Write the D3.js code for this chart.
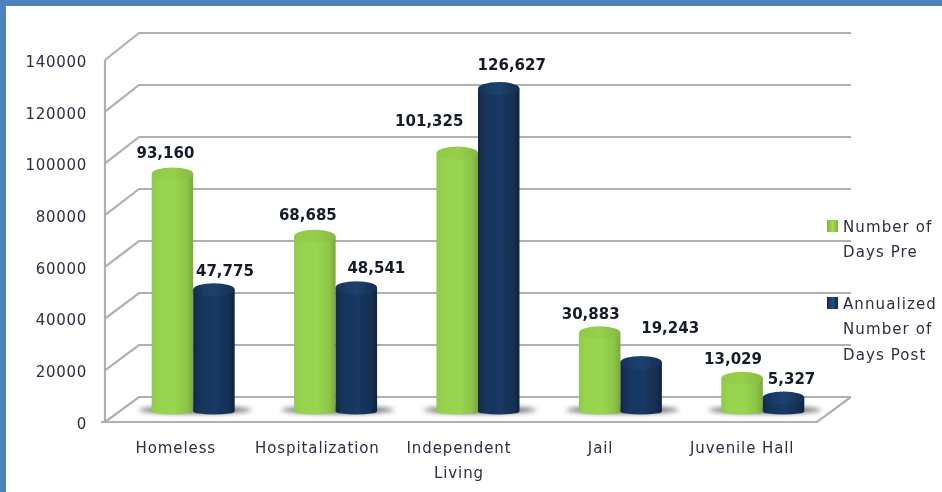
<!DOCTYPE html>
<html><head><meta charset="utf-8">
<script src="https://cdn.jsdelivr.net/npm/d3@7"></script>
<style>
html,body{margin:0;padding:0;background:#fff;overflow:hidden}
svg{display:block}
text{font-family:"DejaVu Sans",sans-serif}
</style></head><body>
<svg id="c" width="942" height="492"></svg>
<script>
const categories=[["Homeless"],["Hospitalization"],["Independent","Living"],["Jail"],["Juvenile Hall"]];
const daysPre=[93160,68685,101325,30883,13029];
const daysPost=[47775,48541,126627,19243,5327];
const yTicks=[0,20000,40000,60000,80000,100000,120000,140000];
const legendPre=["Number of","Days Pre"];
const legendPost=["Annualized","Number of","Days Post"];
// manual label nudges (px), as placed in the source chart
const nudgePre=[[-7,-21],[-7,-22],[-28,-33],[-9,-19],[-9,-20]];
const nudgePost=[[11,-19],[20,-20],[13,-24],[29,-35],[8,-19]];

const svg=d3.select("#c");
const W=942,H=492;
const names=categories.map(c=>c.join(" "));
const yFront=d3.scaleLinear().domain([0,140000]).range([422,60]);
const yBack=d3.scaleLinear().domain([0,140000]).range([397,33]);
const yBar=d3.scaleLinear().domain([0,140000]).range([411.5,54.5]);
const xFront=d3.scaleBand().domain(names).range([105,813]);
const xBar=d3.scaleBand().domain(names).range([122,834]);
const barW=41.5, ry=6.5, ryBase=3;

const defs=svg.append("defs");
function grad(id,stops){
  const g=defs.append("linearGradient").attr("id",id);
  stops.forEach(([o,c])=>g.append("stop").attr("offset",o).attr("stop-color",c));
}
grad("gPre",[[0,"#8fc94a"],[.15,"#96d34e"],[.55,"#98d650"],[.85,"#8cc548"],[1,"#77a83c"]]);
grad("gPreTop",[[0,"#8fc948"],[.5,"#97cf4d"],[1,"#85ba42"]]);
grad("gPost",[[0,"#12284a"],[.2,"#17365d"],[.55,"#1a3a64"],[.85,"#142f52"],[1,"#0f2544"]]);
grad("gPostTop",[[0,"#16345a"],[.5,"#1e4270"],[1,"#142e50"]]);
grad("gLegPre",[[0,"#7fb23e"],[.5,"#a4dc58"],[1,"#7fb23e"]]);
grad("gLegPost",[[0,"#12284a"],[.5,"#24507f"],[1,"#12284a"]]);
const blur=defs.append("filter").attr("id","soft").attr("x","-40%").attr("y","-150%").attr("width","180%").attr("height","400%");
blur.append("feGaussianBlur").attr("stdDeviation",2.5);
const blurAll=defs.append("filter").attr("id","page").attr("x",0).attr("y",0).attr("width","100%").attr("height","100%");
blurAll.append("feGaussianBlur").attr("stdDeviation",0.6);

const root=svg.append("g").attr("filter","url(#page)");
root.append("rect").attr("width",W).attr("height",H).attr("fill","#fff");
root.append("rect").attr("width",W).attr("height",6).attr("fill","#4f81bd");
root.append("rect").attr("width",6).attr("height",H).attr("fill","#4f81bd");

// walls and gridlines
const gridCol="#b0b0b0";
const grid=root.append("g").attr("fill","none").attr("stroke",gridCol).attr("stroke-width",2.2);
grid.selectAll("path").data(yTicks).join("path")
  .attr("d",t=>`M105,${yFront(t)}L139,${yBack(t)}H851`);
grid.append("path").attr("d",`M105,${yFront(140000)}V${yFront(0)}H817L851,${yBack(0)}`);
root.append("path").attr("d",`M101,${yFront(0)}H105`).attr("stroke",gridCol).attr("stroke-width",2.2);

const ink="#2b2f42";
// y axis labels
const yAxis=d3.axisLeft(yFront).tickValues(yTicks).tickFormat(d3.format("d")).tickSize(0).tickPadding(18);
const ya=root.append("g").attr("transform","translate(105,0)").call(yAxis);
ya.select(".domain").remove();
ya.selectAll("text").attr("dy","0.42em").attr("font-size",15).attr("letter-spacing",.7).attr("fill",ink).attr("font-family",'"DejaVu Sans",sans-serif');

// bars
const series=[
 {vals:daysPre,off:-barW,f:"url(#gPre)",t:"url(#gPreTop)",nudge:nudgePre},
 {vals:daysPost,off:0,f:"url(#gPost)",t:"url(#gPostTop)",nudge:nudgePost}];
const cx=(name,s)=>xBar(name)+xBar.bandwidth()/2+s.off+barW/2;
// floor shadows
const shadow=root.append("g").attr("filter","url(#soft)");
shadow.selectAll("ellipse").data(names).join("ellipse")
  .attr("cx",n=>xBar(n)+xBar.bandwidth()/2+2)
  .attr("cy",yBar(0)-1.5).attr("rx",barW+15).attr("ry",3.5).attr("fill","#666");
series.forEach(s=>{
  const g=root.append("g");
  const bars=g.selectAll("g").data(names.map((n,i)=>({n,v:s.vals[i]}))).join("g");
  bars.append("path").attr("fill",s.f).attr("d",d=>{
    const x=cx(d.n,s)-barW/2,y0=yBar(0),y1=yBar(d.v);
    return `M${x},${y1}V${y0}A${barW/2},${ryBase} 0 0 0 ${x+barW},${y0}V${y1}Z`;
  });
  bars.append("ellipse").attr("cx",d=>cx(d.n,s)).attr("cy",d=>yBar(d.v))
    .attr("rx",barW/2).attr("ry",ry).attr("fill",s.t);
});

// value labels
series.forEach(s=>{
  root.append("g").selectAll("text").data(names.map((n,i)=>({n,v:s.vals[i],d:s.nudge[i]}))).join("text")
    .attr("x",d=>cx(d.n,s)+d.d[0]).attr("y",d=>yBar(d.v)+d.d[1]+5.5)
    .attr("text-anchor","middle").attr("font-size",15).attr("font-weight","bold").attr("fill","#141a2b")
    .text(d=>d3.format(",")(d.v));
});

// category labels
const xl=root.append("g");
xl.selectAll("text").data(categories).join("text")
  .attr("text-anchor","middle").attr("font-size",15).attr("letter-spacing",.9).attr("fill",ink)
  .attr("transform",(c,i)=>`translate(${xFront(names[i])+xFront.bandwidth()/2},453)`)
  .selectAll("tspan").data(c=>c).join("tspan")
  .attr("x",0).attr("dy",(d,i)=>i?25:0).text(d=>d);

// legend
function legend(lines,y,f){
  root.append("rect").attr("x",827).attr("y",y-6).attr("width",11).attr("height",12).attr("fill",f);
  const t=root.append("text").attr("font-size",15).attr("fill",ink).attr("letter-spacing",1.1);
  t.selectAll("tspan").data(lines).join("tspan").attr("x",843).attr("y",(d,i)=>y+5.5+i*25.5).text(d=>d);
}
legend(legendPre,226,"url(#gLegPre)");
legend(legendPost,303,"url(#gLegPost)");
</script></body></html>
